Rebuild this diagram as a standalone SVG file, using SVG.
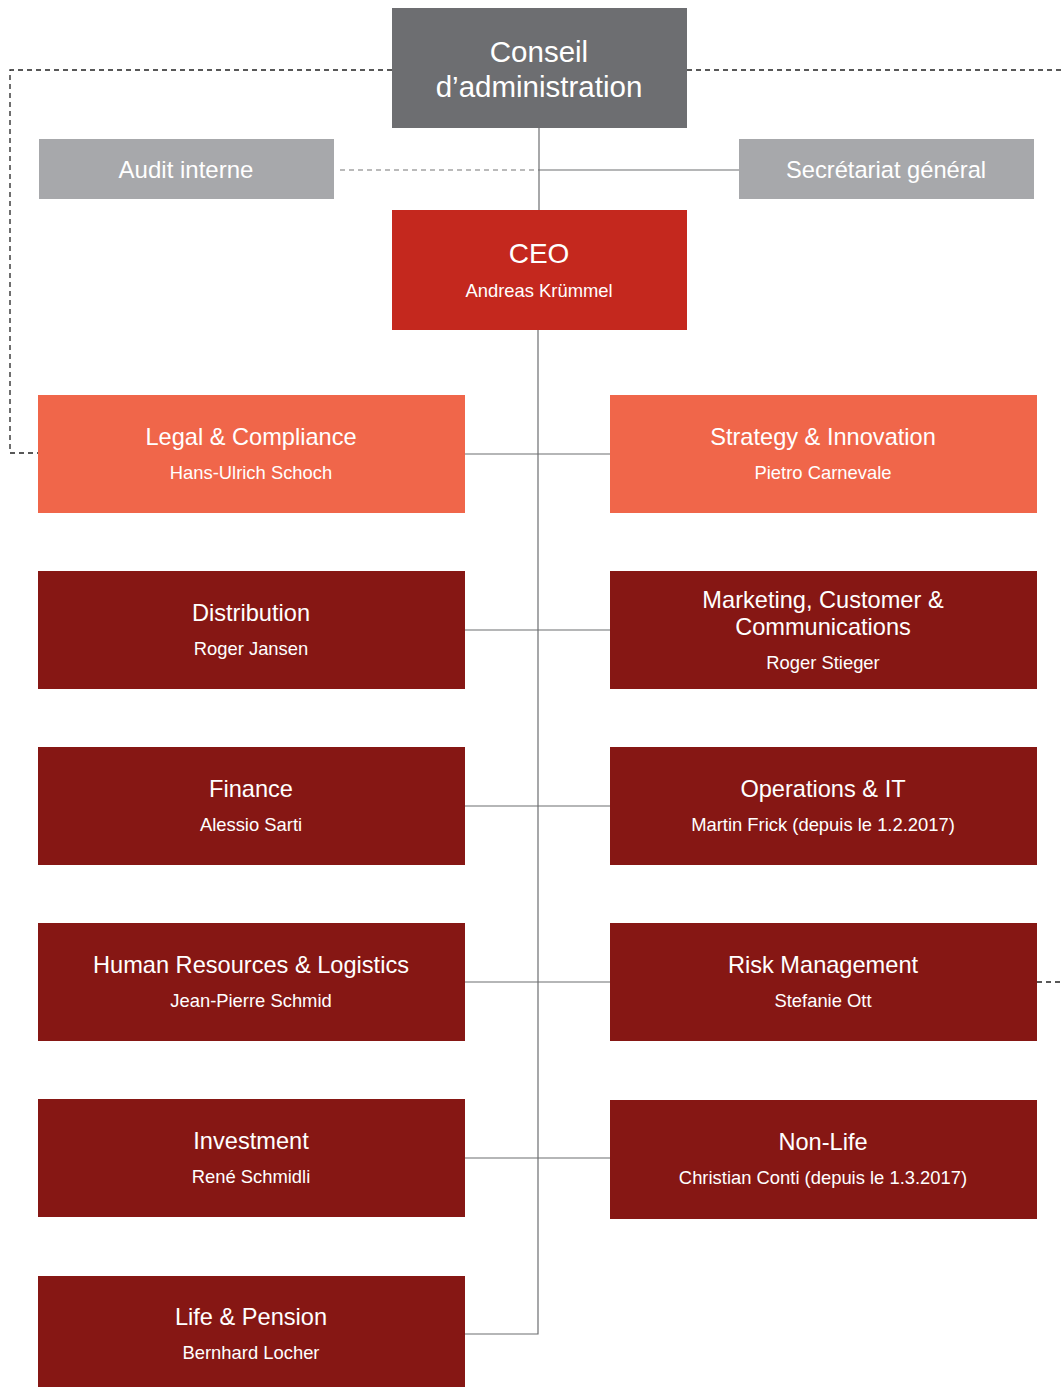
<svg xmlns="http://www.w3.org/2000/svg" width="1063" height="1387" viewBox="0 0 1063 1387">
<style>
.t{font-family:"Liberation Sans",Arial,sans-serif;fill:#fff;text-anchor:middle}
.h{font-size:23.6px}
.s{font-size:18.4px}
.board{fill:#6d6e71}
.staff{fill:#a7a8ab}
.ceo{fill:#c4281e}
.orange{fill:#f0664a}
.dark{fill:#861714}
.ln{stroke:#6d6e71;stroke-width:1.2;fill:none}
.dl{stroke:#222;stroke-width:1.3;fill:none;stroke-dasharray:5 4}
.dg{stroke:#777;stroke-width:1.2;fill:none;stroke-dasharray:5 4}
</style>
<g id="connectors">
<path class="dl" d="M392 70H10V453H38"/>
<path class="dl" d="M687 70H1063"/>
<path class="dg" d="M340 170H538"/>
<path class="ln" d="M538 170H739"/>
<path class="ln" d="M539 128V210"/>
<path class="ln" d="M538 330V1334H465"/>
<path class="ln" d="M465 454H610M465 630H610M465 806H610M465 982H610M465 1158H610"/>
<path class="dl" d="M1037 982H1063"/>
</g>
<g id="conseil">
<rect class="board" x="392" y="8" width="295" height="120"/>
<text class="t" x="539" y="62" font-size="29.5">Conseil</text>
<text class="t" x="539" y="97" font-size="29.5">d’administration</text>
</g>
<g id="audit">
<rect class="staff" x="39" y="139" width="295" height="60"/>
<text class="t" x="186" y="178" font-size="24">Audit interne</text>
</g>
<g id="secretariat">
<rect class="staff" x="739" y="139" width="295" height="60"/>
<text class="t" x="886" y="178" font-size="23.7">Secrétariat général</text>
</g>
<g id="ceo">
<rect class="ceo" x="392" y="210" width="295" height="120"/>
<text class="t" x="539" y="263" font-size="28">CEO</text>
<text class="t s" x="539" y="297">Andreas Krümmel</text>
</g>
<g id="legal">
<rect class="orange" x="38" y="395" width="427" height="118"/>
<text class="t h" x="251" y="445">Legal &amp; Compliance</text>
<text class="t s" x="251" y="479">Hans-Ulrich Schoch</text>
</g>
<g id="strategy">
<rect class="orange" x="610" y="395" width="427" height="118"/>
<text class="t h" x="823" y="445">Strategy &amp; Innovation</text>
<text class="t s" x="823" y="479">Pietro Carnevale</text>
</g>
<g id="distribution">
<rect class="dark" x="38" y="571" width="427" height="118"/>
<text class="t h" x="251" y="621">Distribution</text>
<text class="t s" x="251" y="655">Roger Jansen</text>
</g>
<g id="marketing">
<rect class="dark" x="610" y="571" width="427" height="118"/>
<text class="t h" x="823" y="608">Marketing, Customer &amp;</text>
<text class="t h" x="823" y="635">Communications</text>
<text class="t s" x="823" y="669">Roger Stieger</text>
</g>
<g id="finance">
<rect class="dark" x="38" y="747" width="427" height="118"/>
<text class="t h" x="251" y="797">Finance</text>
<text class="t s" x="251" y="831">Alessio Sarti</text>
</g>
<g id="operations">
<rect class="dark" x="610" y="747" width="427" height="118"/>
<text class="t h" x="823" y="797">Operations &amp; IT</text>
<text class="t s" x="823" y="831">Martin Frick (depuis le 1.2.2017)</text>
</g>
<g id="hr">
<rect class="dark" x="38" y="923" width="427" height="118"/>
<text class="t h" x="251" y="973">Human Resources &amp; Logistics</text>
<text class="t s" x="251" y="1007">Jean-Pierre Schmid</text>
</g>
<g id="risk">
<rect class="dark" x="610" y="923" width="427" height="118"/>
<text class="t h" x="823" y="973">Risk Management</text>
<text class="t s" x="823" y="1007">Stefanie Ott</text>
</g>
<g id="investment">
<rect class="dark" x="38" y="1099" width="427" height="118"/>
<text class="t h" x="251" y="1149">Investment</text>
<text class="t s" x="251" y="1183">René Schmidli</text>
</g>
<g id="nonlife">
<rect class="dark" x="610" y="1100" width="427" height="119"/>
<text class="t h" x="823" y="1150">Non-Life</text>
<text class="t s" x="823" y="1184">Christian Conti (depuis le 1.3.2017)</text>
</g>
<g id="life">
<rect class="dark" x="38" y="1276" width="427" height="111"/>
<text class="t h" x="251" y="1325">Life &amp; Pension</text>
<text class="t s" x="251" y="1359">Bernhard Locher</text>
</g>
</svg>
